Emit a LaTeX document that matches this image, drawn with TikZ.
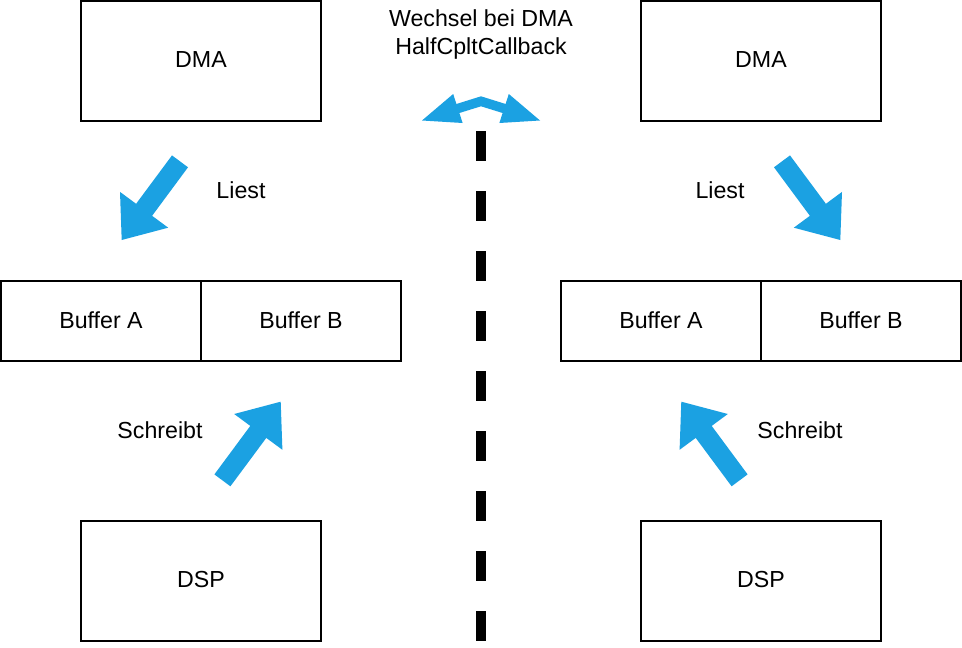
\documentclass[tikz,border=0pt]{standalone}
\usepackage{fontspec}
\setmainfont{Liberation Sans}
\definecolor{dmablue}{HTML}{1BA1E2}
\newcommand{\lblfont}{\fontsize{23.2}{27}\selectfont}
\begin{document}
\begin{tikzpicture}[x=1pt,y=-1pt,
  box/.style={draw=black,line width=2pt,minimum width=240pt,minimum height=120pt,inner sep=0pt},
  buf/.style={draw=black,line width=2pt,minimum width=200pt,minimum height=80pt,inner sep=0pt},
  lbl/.style={inner sep=0pt,font=\lblfont},
  blockarrow/.style={fill=dmablue,draw=none},
  divider/.style={draw=black,line width=10pt,dash pattern=on 30pt off 30pt}]
\useasboundingbox (0,0) rectangle (962,648);
\fill[white] (0,0) rectangle (962,648);

% boxes
\node[box] (dmaL) at (201,61) {};
\node[box] (dmaR) at (761,61) {};
\node[buf] (bufAL) at (101,321) {};
\node[buf] (bufBL) at (301,321) {};
\node[buf] (bufAR) at (661,321) {};
\node[buf] (bufBR) at (861,321) {};
\node[box] (dspL) at (201,581) {};
\node[box] (dspR) at (761,581) {};

% box texts
\node[lbl] at (dmaL.center) [yshift=1pt] {DMA};
\node[lbl] at (dmaR.center) [yshift=1pt] {DMA};
\node[lbl] at (bufAL.center) [yshift=1pt] {Buffer A};
\node[lbl] at (bufBL.center) [yshift=1pt] {Buffer B};
\node[lbl] at (bufAR.center) [yshift=1pt] {Buffer A};
\node[lbl] at (bufBR.center) [yshift=1pt] {Buffer B};
\node[lbl] at (dspL.center) [yshift=1pt] {DSP};
\node[lbl] at (dspR.center) [yshift=1pt] {DSP};

% labels
\node[lbl] (liestL) at (241,190) {Liest};
\node[lbl] (liestR) at (720,190) {Liest};
\node[lbl] (schreibtL) at (160,430) {Schreibt};
\node[lbl] (schreibtR) at (800,430) {Schreibt};
\node[lbl,anchor=base] (wechsel1) at (481,26) {Wechsel bei DMA};
\node[lbl,anchor=base] (wechsel2) at (481,54.3) {HalfCpltCallback};

% divider
\coordinate (divTop) at (481,131);
\coordinate (divBot) at (481,641);
\draw[divider] (divTop) -- (divBot);

% block arrows
\fill[blockarrow] (172,155.4) -- (136.1,203.8) -- (120,191.9) -- (121.7,240) -- (168.2,227.7) -- (152.1,215.8) -- (188,167.3) -- cycle;
\fill[blockarrow] (790,155.4) -- (825.9,203.8) -- (842,191.9) -- (840.3,240) -- (793.8,227.7) -- (809.9,215.8) -- (774,167.3) -- cycle;
\fill[blockarrow] (230.4,486.3) -- (266.3,437.9) -- (282.4,449.8) -- (280.7,401.7) -- (234.2,414) -- (250.3,425.9) -- (214.4,474.4) -- cycle;
\fill[blockarrow] (731.6,486.3) -- (695.7,437.9) -- (679.6,449.8) -- (681.3,401.7) -- (727.8,414) -- (711.7,425.9) -- (747.6,474.4) -- cycle;

% double arrow
\fill[blockarrow] (422,120.5) -- (453.2,94) -- (456.4,104) -- (481,96.3) -- (505.6,104) -- (508.8,94) -- (540,120.5) -- (499.4,123) -- (502.6,113) -- (481,106.3) -- (459.4,113) -- (462.6,123) -- cycle;
\end{tikzpicture}
\end{document}
